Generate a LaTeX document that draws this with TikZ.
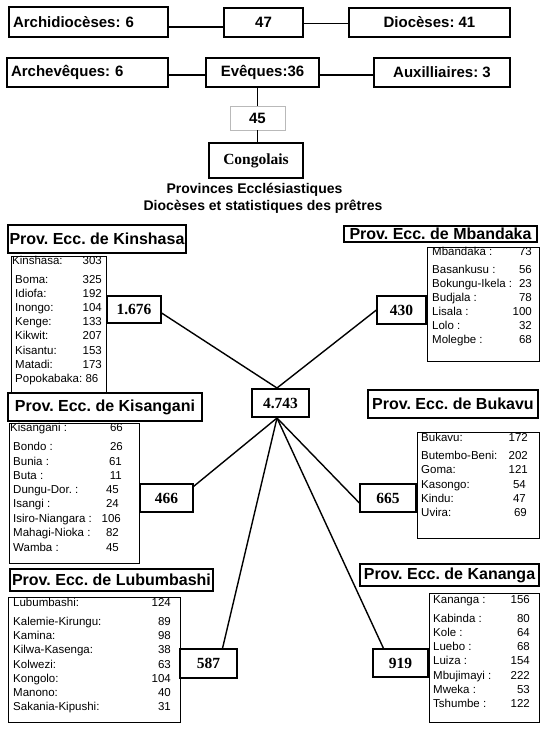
\documentclass[tikz,border=0pt]{standalone}
\usepackage{fontspec}
\setmainfont{Liberation Sans}
\newfontfamily\numfont{Liberation Serif}
\frenchspacing
\tikzset{
 bx/.style={draw, line width=1.5pt, inner sep=0pt, font=\frenchspacing\bfseries\fontsize{15}{18}\selectfont},
 hdr/.style={draw, line width=1.2pt, inner sep=0pt, font=\frenchspacing\bfseries\fontsize{16}{18}\selectfont},
 lst/.style={draw, line width=0.9pt, inner sep=0pt},
 num/.style={draw, line width=1.2pt, inner sep=0pt, font=\numfont\bfseries\fontsize{15.5}{18}\selectfont},
 item/.style={inner sep=0pt, font=\frenchspacing\fontsize{11.5}{13}\selectfont},
 ttl/.style={inner sep=0pt, font=\frenchspacing\bfseries\fontsize{14}{17}\selectfont},
 conn/.style={line width=1.4pt},
}
\begin{document}
\begin{tikzpicture}[x=1pt,y=-1pt]
\useasboundingbox[fill=white] (0,0) rectangle (550,729);

% top rows
\node[bx, minimum width=159, minimum height=30, text width=151, align=left] (archi) at (88.5,22) {Archidiocèses: 6};
\node[bx, minimum width=79, minimum height=29] (n47) at (263.5,22.5) {47};
\node[bx, minimum width=161, minimum height=29] (dioc) at (429.5,22.5) {Diocèses: 41};
\node[bx, minimum width=161, minimum height=29, text width=153, align=left] (arche) at (87.5,72.5) {Archevêques: 6};
\node[bx, minimum width=113, minimum height=29] (eve) at (262.5,72.5) {Evêques:36};
\node[bx, minimum width=136, minimum height=29] (aux) at (442,72.5) {Auxilliaires: 3};
\node[bx, draw=gray!55, line width=0.9pt, minimum width=55, minimum height=24] (n45) at (257.5,118) {45};
\node[num, line width=2pt, minimum width=94, minimum height=35] (cong) at (256,160.5) {Congolais};

\draw[conn] ([yshift=-5]archi.east) -- ([yshift=-5]archi.east -| n47.west);
\draw[conn] ([yshift=-1]n47.east) -- ([yshift=-1]n47.east -| dioc.west);
\draw[conn] ([yshift=-2.5]arche.east) -- ([yshift=-2.5]arche.east -| eve.west);
\draw[conn] ([yshift=-2.5]eve.east) -- ([yshift=-2.5]eve.east -| aux.west);
\draw[conn] (eve.south -| n45.north) -- (n45.north);
\draw[conn] (n45.south) -- (n45.south |- cong.north);

\node[ttl] (t1) at (254.5,190) {Provinces Ecclésiastiques};
\node[ttl] (t2) at (263,207) {Diocèses et statistiques des prêtres};

% headers
\node[hdr, minimum width=178, minimum height=28] (kinH) at (97,239) {Prov. Ecc. de Kinshasa};
\node[hdr, minimum width=193, minimum height=16] (mbaH) at (440.5,234) {Prov. Ecc. de Mbandaka};
\node[hdr, minimum width=194, minimum height=28] (kisH) at (105,407) {Prov. Ecc. de Kisangani};
\node[hdr, minimum width=170, minimum height=28] (bukH) at (453,404) {Prov. Ecc. de Bukavu};
\node[hdr, minimum width=203, minimum height=22] (lubH) at (111.5,580) {Prov. Ecc. de Lubumbashi};
\node[hdr, minimum width=179, minimum height=22] (kanH) at (449.5,575) {Prov. Ecc. de Kananga};

% list boxes
\node[lst, minimum width=95, minimum height=136] (kinL) at (58.5,324) {};
\node[lst, minimum width=112, minimum height=114] (mbaL) at (483,304) {};
\node[lst, minimum width=130, minimum height=140] (kisL) at (74,493) {};
\node[lst, minimum width=122, minimum height=106] (bukL) at (478,485) {};
\node[lst, minimum width=172, minimum height=125] (lubL) at (94,659.5) {};
\node[lst, minimum width=110, minimum height=129] (kanL) at (484,657.5) {};

% list items
\foreach \n/\v/\y/\xl/\xr [count=\i] in {Kinshasa:/303/262/12/102, Boma:/325/281/15/102, Idiofa:/192/295/15/102, Inongo:/104/309/15/102, Kenge:/133/323/15/102, Kikwit:/207/337/15/102, Kisantu:/153/352/15/102, Matadi:/173/366/15/102, Popokabaka: 86//380/15/102}{
 \node[item, anchor=mid west] (kin-n\i) at (\xl,\y) {\n};
 \node[item, anchor=mid east] (kin-v\i) at (\xr,\y) {\v};
}
\foreach \n/\v/\y [count=\i] in {Mbandaka :/73/253, Basankusu :/56/271, Bokungu-Ikela :/23/285, Budjala :/78/299, Lisala :/100/313, Lolo :/32/327, Molegbe :/68/341}{
 \node[item, anchor=mid west] (mba-n\i) at (432,\y) {\n};
 \node[item, anchor=mid east] (mba-v\i) at (532,\y) {\v};
}
\foreach \n/\v/\y/\xl/\xr [count=\i] in {Kisangani :/66/429/10/123, Bondo :/26/448/13/123, Bunia :/61/463/13/122, Buta :/11/477/13/122, Dungu-Dor. :/45/491/13/119, Isangi :/24/505/13/119, Isiro-Niangara :/106/520/13/121, Mahagi-Nioka :/82/534/13/119, Wamba :/45/549/13/119}{
 \node[item, anchor=mid west] (kis-n\i) at (\xl,\y) {\n};
 \node[item, anchor=mid east] (kis-v\i) at (\xr,\y) {\v};
}
\foreach \n/\v/\y/\xr [count=\i] in {Bukavu:/172/439/528, Butembo-Beni:/202/457/528, Goma:/121/471/528, Kasongo:/54/486/526, Kindu:/47/500/526, Uvira:/69/514/527}{
 \node[item, anchor=mid west] (buk-n\i) at (421,\y) {\n};
 \node[item, anchor=mid east] (buk-v\i) at (\xr,\y) {\v};
}
\foreach \n/\v/\y [count=\i] in {Lubumbashi:/124/604, Kalemie-Kirungu:/89/623, Kamina:/98/637, Kilwa-Kasenga:/38/651, Kolwezi:/63/666, Kongolo:/104/680, Manono:/40/694, Sakania-Kipushi:/31/708}{
 \node[item, anchor=mid west] (lub-n\i) at (13,\y) {\n};
 \node[item, anchor=mid east] (lub-v\i) at (171,\y) {\v};
}
\foreach \n/\v/\y [count=\i] in {Kananga :/156/601, Kabinda :/80/620, Kole :/64/634, Luebo :/68/648, Luiza :/154/662, Mbujimayi :/222/677, Mweka :/53/691, Tshumbe :/122/705}{
 \node[item, anchor=mid west] (kan-n\i) at (433,\y) {\n};
 \node[item, anchor=mid east] (kan-v\i) at (530,\y) {\v};
}

% number boxes
\node[num, minimum width=54, minimum height=27] (n1676) at (134,309.5) {1.676};
\node[num, minimum width=49, minimum height=28] (n430) at (401.5,310) {430};
\node[num, minimum width=53, minimum height=28] (n466) at (166.5,498) {466};
\node[num, minimum width=56, minimum height=28] (n665) at (388,498) {665};
\node[num, minimum width=57, minimum height=29] (n587) at (208.5,663.5) {587};
\node[num, minimum width=55, minimum height=28] (n919) at (400.5,663) {919};
\node[num, line width=2pt, minimum width=57, minimum height=28] (tot) at (280.5,403) {4.743};

\coordinate (totT) at ([xshift=-3.5]tot.north);
\coordinate (totB) at ([xshift=-3.5]tot.south);

\draw[conn] ([yshift=-3.5]n1676.east) -- (totT);
\draw[conn] (n430.west) -- (totT);
\draw[conn] ([yshift=-3]n466.north east) -- (totB);
\draw[conn] ([yshift=-5]n665.west) -- (totB);
\draw[conn] ([xshift=14]n587.north) -- (totB);
\draw[conn] ([xshift=-17]n919.north) -- (totB);
\end{tikzpicture}
\end{document}
